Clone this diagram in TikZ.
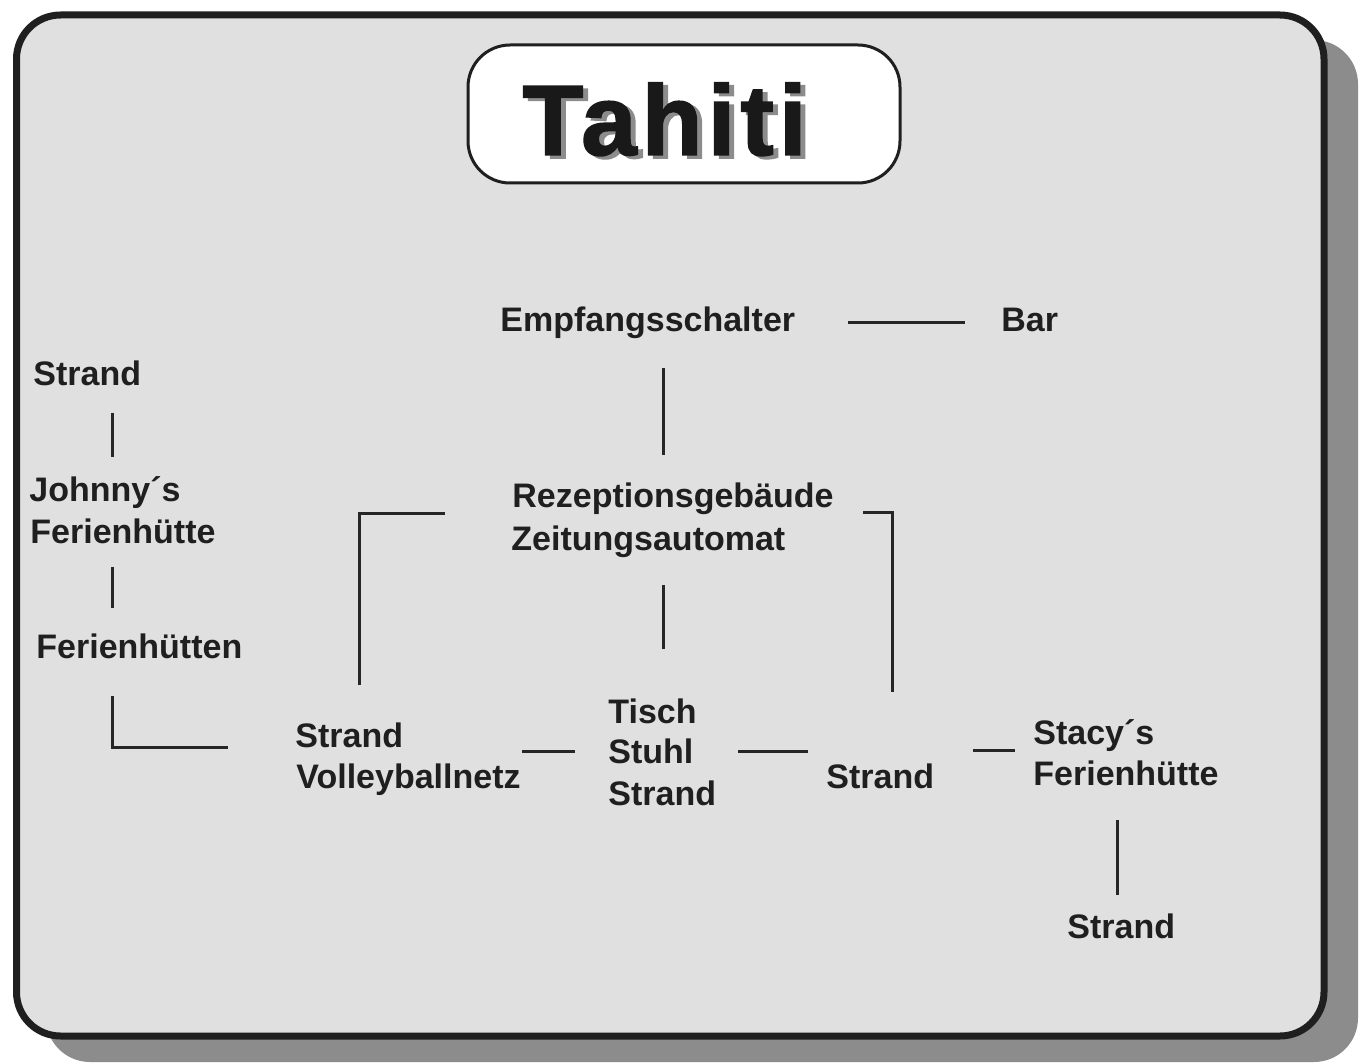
\documentclass[tikz,border=0pt]{standalone}
\usepackage{fontspec}
\setmainfont{Liberation Sans}
\newfontfamily\titlefont{Liberation Sans Bold}[LetterSpace=5, FakeBold=1.5]
\begin{document}
\begin{tikzpicture}[x=0.5pt,y=-0.5pt,
  lbl/.style={anchor=base west, inner sep=0pt, font=\fontsize{17}{20.5}\selectfont\bfseries, text=black!88},
  link/.style={line width=1.5pt, draw=black!85},
  framebox/.style={line width=3.5pt, draw=black!88, fill=black!12, rounded corners=22pt},
  shadowbox/.style={fill=black!45, rounded corners=22pt},
  titlebox/.style={draw=black!88, line width=1.5pt, fill=white, rounded corners=21pt, minimum width=216pt, minimum height=69pt, inner sep=0pt},
  titletext/.style={anchor=base west, inner sep=0pt, font=\titlefont\fontsize{50}{60}\selectfont}]
\useasboundingbox (0,0) rectangle (1372,1064);
\fill[white] (0,0) rectangle (1372,1064);
% shadow and frame
\fill[shadowbox] (46,40) rectangle (1358,1062);
\draw[framebox] (16.5,15) rectangle (1324,1036);
% title
\node[titlebox] (tbox) at (684,114) {};
\node[titletext, text=black!45] (tshadow) at (527,158) {Tahiti};
\node[titletext, text=black!90] (title) at (522,155) {Tahiti};
% labels
\node[lbl] (strandA) at (33,386) {Strand};
\node[lbl] (johnnyA) at (29,502) {Johnny´s};
\node[lbl] (johnnyB) at (30,543) {Ferienhütte};
\node[lbl] (huetten) at (36,658) {Ferienhütten};
\node[lbl] (emp) at (500,332) {Empfangsschalter};
\node[lbl] (bar) at (1001,332) {Bar};
\node[lbl] (rezA) at (512,508) {Rezeptionsgebäude};
\node[lbl] (rezB) at (511,550) {Zeitungsautomat};
\node[lbl] (svA) at (295,747) {Strand};
\node[lbl] (svB) at (296,788) {Volleyballnetz};
\node[lbl] (tischA) at (608,723) {Tisch};
\node[lbl] (tischB) at (608,763) {Stuhl};
\node[lbl] (tischC) at (608,805) {Strand};
\node[lbl] (strandM) at (826,788) {Strand};
\node[lbl] (stacyA) at (1033,744) {Stacy´s};
\node[lbl] (stacyB) at (1033,785) {Ferienhütte};
\node[lbl] (strandB) at (1067,938) {Strand};
% connector end points
\coordinate (a1) at (112,413); \coordinate (a2) at (112,457);
\coordinate (b1) at (112,567); \coordinate (b2) at (112,608);
\coordinate (c1) at (112,696); \coordinate (c2) at (112,747); \coordinate (c3) at (228,747);
\coordinate (d1) at (359,685); \coordinate (d2) at (359,513); \coordinate (d3) at (445,513);
\coordinate (e1) at (848,323); \coordinate (e2) at (965,323);
\coordinate (f1) at (663,368); \coordinate (f2) at (663,455);
\coordinate (g1) at (663,585); \coordinate (g2) at (663,649);
\coordinate (h1) at (863,512); \coordinate (h2) at (892,512); \coordinate (h3) at (892,692);
\coordinate (i1) at (522,751); \coordinate (i2) at (575,751);
\coordinate (j1) at (738,751); \coordinate (j2) at (808,751);
\coordinate (k1) at (973,750); \coordinate (k2) at (1015,750);
\coordinate (l1) at (1117,820); \coordinate (l2) at (1117,895);
% connectors
\draw[link] (a1) -- (a2);
\draw[link] (b1) -- (b2);
\draw[link] (c1) -- (c2) -- (c3);
\draw[link] (d1) -- (d2) -- (d3);
\draw[link] (e1) -- (e2);
\draw[link] (f1) -- (f2);
\draw[link] (g1) -- (g2);
\draw[link] (h1) -- (h2) -- (h3);
\draw[link] (i1) -- (i2);
\draw[link] (j1) -- (j2);
\draw[link] (k1) -- (k2);
\draw[link] (l1) -- (l2);
\end{tikzpicture}
\end{document}
